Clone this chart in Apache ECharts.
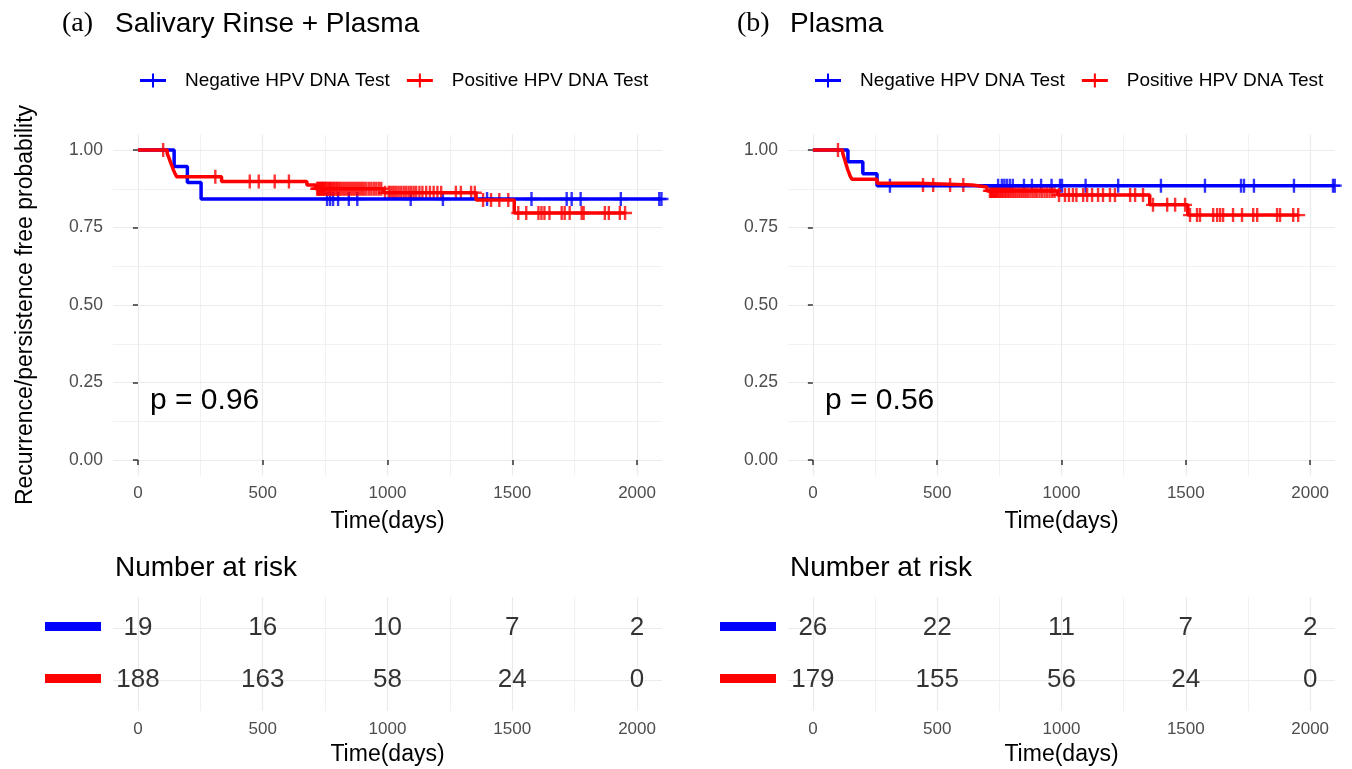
<!DOCTYPE html>
<html>
<head>
<meta charset="utf-8">
<script src="https://cdn.jsdelivr.net/npm/echarts@6/dist/echarts.min.js"></script>
<style>
  html, body { margin: 0; padding: 0; background: #fff; }
  #chart { width: 1352px; height: 769px; }
</style>
</head>
<body>
<div id="chart"></div>
<script>
// axis ticks
const timeTicks = [0, 500, 1000, 1500, 2000];
const timeMinor = [250, 750, 1250, 1750];
const probTicks = [0, 0.25, 0.5, 0.75, 1];
const probMinor = [0.125, 0.375, 0.625, 0.875];

// (a) Salivary Rinse + Plasma
const negTimesA = [0, 145, 198, 253];
const negSurvA = [1, 0.947, 0.895, 0.842];
const negCensorA = [758, 770, 782, 802, 845, 879, 1093, 1222, 1399, 1577, 1718, 1738, 1774, 1935, 2089, 2098];
const posTimesA = [0, 117, 122, 127, 132, 137, 142, 148, 155, 335, 677, 712, 985, 1355, 1508];
const posSurvA = [1, 0.989, 0.979, 0.968, 0.957, 0.947, 0.936, 0.925, 0.914, 0.898, 0.887, 0.875, 0.862, 0.839, 0.797];
const posCensorA = [101, 310, 448, 484, 548, 605, 718, 722, 726, 730, 734, 738, 742, 746, 750, 755, 760, 765,
  770, 775, 780, 786, 792, 798, 804, 810, 818, 826, 834, 842, 850, 858, 866, 874, 882, 890, 898, 906, 915, 925,
  935, 945, 955, 965, 975, 990, 1005, 1012, 1020, 1028, 1036, 1045, 1055, 1065, 1075, 1085, 1095, 1105, 1115,
  1128, 1140, 1155, 1170, 1185, 1200, 1215, 1274, 1294, 1335, 1350, 1383, 1415, 1448, 1484, 1524, 1556, 1605,
  1617, 1629, 1649, 1698, 1710, 1730, 1778, 1786, 1871, 1887, 1931, 1952];
const riskNegA = [19, 16, 10, 7, 2];
const riskPosA = [188, 163, 58, 24, 0];

// (b) Plasma
const negTimesB = [0, 141, 201, 258];
const negSurvB = [1, 0.962, 0.923, 0.885];
const negCensorB = [310, 745, 760, 770, 780, 792, 804, 849, 881, 918, 960, 994, 1002, 1097, 1228, 1400, 1577,
  1722, 1734, 1774, 1935, 2092, 2099];
const posTimesB = [0, 120, 124, 128, 132, 136, 140, 145, 150, 157, 258, 420, 640, 700, 985, 1355, 1508];
const posSurvB = [1, 0.99, 0.979, 0.969, 0.958, 0.948, 0.937, 0.927, 0.916, 0.906, 0.893, 0.887, 0.881, 0.868, 0.855, 0.823, 0.79];
const posCensorB = [101, 443, 484, 552, 605, 712, 716, 720, 724, 728, 732, 736, 740, 745, 750, 755, 760, 766,
  772, 778, 784, 790, 797, 804, 811, 818, 826, 834, 842, 850, 858, 866, 875, 884, 893, 902, 912, 922, 932, 942,
  952, 962, 972, 990, 1014, 1030, 1046, 1060, 1087, 1103, 1123, 1147, 1167, 1195, 1215, 1276, 1296, 1328, 1368,
  1425, 1457, 1497, 1517, 1545, 1557, 1610, 1626, 1638, 1650, 1690, 1726, 1771, 1787, 1867, 1879, 1932, 1952];
const riskNegB = [26, 22, 11, 7, 2];
const riskPosB = [179, 155, 56, 24, 0];

const riskTimes = [0, 500, 1000, 1500, 2000];
const groupNames = ['Negative HPV DNA Test', 'Positive HPV DNA Test'];

const FONT = "'Liberation Sans', Arial, Helvetica, sans-serif";
const BLUE = '#0000ff';
const RED = '#ff0000';
const GRID = '#ebebeb';
const CROSS = 'path://M5.8,0H8.2V5.8H14V8.2H8.2V14H5.8V8.2H0V5.8H5.8Z';
const LEGEND_ICON = 'path://M0,5.5H26V8.5H0Z M12,0H14V14H12Z';

function survAt(times, surv, t) {
  let s = surv[0];
  for (let i = 0; i < times.length; i++) {
    if (times[i] <= t) s = surv[i];
  }
  return s;
}

function kmData(times, surv, end) {
  const d = times.map((t, i) => [t, surv[i]]);
  d.push([end, surv[surv.length - 1]]);
  return d;
}

function censorData(times, surv, censor) {
  return censor.map((c) => [c, survAt(times, surv, c)]);
}

const panels = [
  {
    left: 113, width: 549, tag: '(a)', title: 'Salivary Rinse + Plasma', p: 'p = 0.96', yName: 'Recurrence/persistence free probability',
    neg: { times: negTimesA, surv: negSurvA, censor: negCensorA, end: 2098 },
    pos: { times: posTimesA, surv: posSurvA, censor: posCensorA, end: 1952 },
    riskNeg: riskNegA, riskPos: riskPosA,
  },
  {
    left: 788, width: 547, tag: '(b)', title: 'Plasma', p: 'p = 0.56', yName: '',
    neg: { times: negTimesB, surv: negSurvB, censor: negCensorB, end: 2099 },
    pos: { times: posTimesB, surv: posSurvB, censor: posCensorB, end: 1952 },
    riskNeg: riskNegB, riskPos: riskPosB,
  },
];

const grid = [];
const xAxis = [];
const yAxis = [];
const series = [];
const legend = [];
const graphic = [];

panels.forEach((pn) => {
  const gKm = grid.length;
  grid.push({ left: pn.left, top: 134.5, width: pn.width, height: 341 });
  const gRisk = grid.length;
  grid.push({ left: pn.left, top: 597, width: pn.width, height: 114 });

  const xKm = xAxis.length;
  xAxis.push({
    type: 'value', gridIndex: gKm, min: -100, max: 2100, position: 'bottom',
    axisLine: { show: false },
    axisTick: { show: true, customValues: timeTicks, length: 5, lineStyle: { color: '#333', width: 1.5 } },
    axisLabel: { customValues: timeTicks, color: '#4d4d4d', fontSize: 17, margin: 9, fontFamily: FONT, formatter: (v) => String(v) },
    splitLine: { show: true, lineStyle: { color: GRID, width: 1.2 } },
    name: 'Time(days)', nameLocation: 'middle', nameGap: 35,
    nameTextStyle: { fontSize: 23, color: '#000', fontFamily: FONT },
  });
  xAxis.push({
    type: 'value', gridIndex: gKm, min: -100, max: 2100, position: 'top',
    axisLine: { show: false }, axisLabel: { show: false },
    axisTick: { show: false, customValues: timeMinor },
    splitLine: { show: true, lineStyle: { color: GRID, width: 0.7 } },
  });
  const xRisk = xAxis.length;
  xAxis.push({
    type: 'value', gridIndex: gRisk, min: -100, max: 2100, position: 'bottom',
    axisLine: { show: false },
    axisTick: { show: false, customValues: timeTicks },
    axisLabel: { customValues: timeTicks, color: '#4d4d4d', fontSize: 17, margin: 10, fontFamily: FONT, formatter: (v) => String(v) },
    splitLine: { show: true, lineStyle: { color: GRID, width: 1.2 } },
    name: 'Time(days)', nameLocation: 'middle', nameGap: 32,
    nameTextStyle: { fontSize: 23, color: '#000', fontFamily: FONT },
  });
  xAxis.push({
    type: 'value', gridIndex: gRisk, min: -100, max: 2100, position: 'top',
    axisLine: { show: false }, axisLabel: { show: false },
    axisTick: { show: false, customValues: timeMinor },
    splitLine: { show: true, lineStyle: { color: GRID, width: 0.7 } },
  });

  const yKm = yAxis.length;
  yAxis.push({
    type: 'value', gridIndex: gKm, min: -0.05, max: 1.05, position: 'left',
    axisLine: { show: false },
    axisTick: { show: true, customValues: probTicks, length: 5, lineStyle: { color: '#333', width: 1.5 } },
    axisLabel: {
      customValues: probTicks, color: '#4d4d4d', fontSize: 17.5, margin: 10, fontFamily: FONT,
      formatter: (v) => v.toFixed(2),
    },
    splitLine: { show: true, lineStyle: { color: GRID, width: 1.2 } },
    name: pn.yName, nameLocation: 'middle', nameGap: 76, nameRotate: 90,
    nameTextStyle: { fontSize: 23, color: '#000', fontFamily: FONT },
  });
  yAxis.push({
    type: 'value', gridIndex: gKm, min: -0.05, max: 1.05, position: 'right',
    axisLine: { show: false }, axisLabel: { show: false },
    axisTick: { show: false, customValues: probMinor },
    splitLine: { show: true, lineStyle: { color: GRID, width: 0.7 } },
  });
  const yRisk = yAxis.length;
  yAxis.push({
    type: 'value', gridIndex: gRisk, min: 0.4, max: 2.6, inverse: true,
    axisLine: { show: false }, axisLabel: { show: false },
    axisTick: { show: false, customValues: [1, 2] },
    splitLine: { show: true, lineStyle: { color: GRID, width: 1.2 } },
  });

  const groups = [
    { name: groupNames[0], color: BLUE, d: pn.neg },
    { name: groupNames[1], color: RED, d: pn.pos },
  ];
  groups.forEach((g) => {
    series.push({
      type: 'line', name: g.name, xAxisIndex: xKm, yAxisIndex: yKm, step: 'end',
      data: kmData(g.d.times, g.d.surv, g.d.end),
      showSymbol: false, symbol: 'none', color: g.color,
      lineStyle: { color: g.color, width: 3.5 }, silent: true, animation: false,
    });
    series.push({
      type: 'scatter', name: g.name, xAxisIndex: xKm, yAxisIndex: yKm,
      data: censorData(g.d.times, g.d.surv, g.d.censor),
      symbol: CROSS, symbolSize: 14, color: g.color,
      itemStyle: { color: g.color }, silent: true, animation: false,
    });
  });

  series.push({
    type: 'scatter', xAxisIndex: xRisk, yAxisIndex: yRisk, symbolSize: 0, silent: true, animation: false,
    data: riskTimes.map((t, k) => [t, 1, pn.riskNeg[k]]).concat(riskTimes.map((t, k) => [t, 2, pn.riskPos[k]])),
    label: {
      show: true, position: 'inside', color: '#000', fontSize: 26, fontFamily: FONT,
      formatter: (p) => String(p.value[2]),
    },
  });

  legend.push({
    left: pn.left + 22, top: 66, itemWidth: 26, itemHeight: 14, itemGap: 17, selectedMode: false,
    data: groupNames.map((n) => ({ name: n, icon: LEGEND_ICON })),
    itemStyle: { borderWidth: 0 },
    textStyle: { fontSize: 19, color: '#000', fontFamily: FONT, padding: [0, 0, 0, 14] },
  });

  const off = pn.left - 113;
  graphic.push(
    { type: 'text', z: 100, left: 62 + off, top: 10, style: { text: pn.tag, fontSize: 28, fontFamily: "'Liberation Serif', 'Times New Roman', serif", fill: '#000' } },
    { type: 'text', z: 100, left: 115 + off, top: 10, style: { text: pn.title, fontSize: 28, fontFamily: FONT, fill: '#000' } },
    { type: 'text', z: 100, left: 150 + off, top: 386, style: { text: pn.p, fontSize: 30, fontFamily: FONT, fill: '#000' } },
    { type: 'text', z: 100, left: 115 + off, top: 554, style: { text: 'Number at risk', fontSize: 28, fontFamily: FONT, fill: '#000' } },
    { type: 'rect', z: 100, shape: { x: 45 + off, y: 622, width: 56, height: 9 }, style: { fill: BLUE } },
    { type: 'rect', z: 100, shape: { x: 45 + off, y: 674, width: 56, height: 9 }, style: { fill: RED } },
  );
});

const chart = echarts.init(document.getElementById('chart'));
chart.setOption({
  animation: false,
  backgroundColor: '#fff',
  textStyle: { fontFamily: FONT },
  grid, xAxis, yAxis, series, legend, graphic,
});
</script>
</body>
</html>
